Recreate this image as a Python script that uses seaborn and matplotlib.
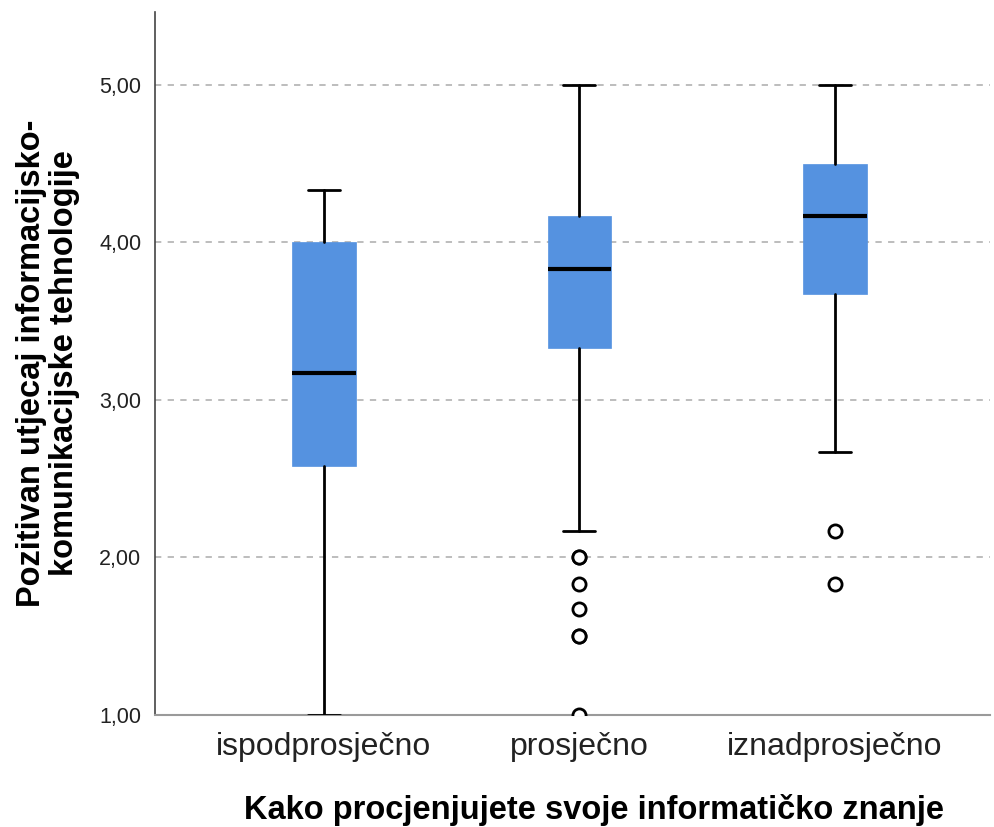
import numpy as np
import pandas as pd
import seaborn as sns
import matplotlib.pyplot as plt

# summary statistics
categories = ["ispodprosječno", "prosječno", "iznadprosječno"]
whisker_low = [1.00, 2.17, 2.67]
q1 = [2.58, 3.33, 3.67]
median = [3.17, 3.83, 4.17]
q3 = [4.00, 4.17, 4.50]
whisker_high = [4.33, 5.00, 5.00]

outlier_group = ["prosječno"] * 7 + ["iznadprosječno"] * 2
outlier_value = [2.00, 2.00, 1.83, 1.67, 1.50, 1.50, 1.00, 2.17, 1.83]

yticks = [1, 2, 3, 4, 5]

sns.set_style("white")
plt.rcParams["font.family"] = ["Liberation Sans", "DejaVu Sans"]

fig = plt.figure(figsize=(9.94, 8.27), dpi=100)
ax = fig.add_axes([0.156, 0.1354, 0.84, 0.8501])

stats = []
for i, cat in enumerate(categories):
    stats.append({
        "label": cat,
        "whislo": whisker_low[i],
        "q1": q1[i],
        "med": median[i],
        "q3": q3[i],
        "whishi": whisker_high[i],
        "fliers": [],
    })

box_color = "#5592e0"
ax.bxp(
    stats,
    positions=range(len(categories)),
    widths=0.25,
    patch_artist=True,
    showfliers=False,
    boxprops=dict(facecolor=box_color, edgecolor=box_color, linewidth=0.5),
    medianprops=dict(color="black", linewidth=3.0, solid_capstyle="butt"),
    whiskerprops=dict(color="black", linewidth=2.0),
    capprops=dict(color="black", linewidth=2.0),
    zorder=3,
)

# outliers as open circles
out_df = pd.DataFrame({"grp": outlier_group, "val": outlier_value})
out_df["pos"] = out_df["grp"].map({c: i for i, c in enumerate(categories)})
sns.scatterplot(
    data=out_df, x="pos", y="val", ax=ax,
    marker="o", s=90, facecolor="white", edgecolor="black",
    linewidth=2.0, zorder=4, legend=False,
)

ax.set_xlim(-0.661, 2.607)
ax.set_ylim(1.0, 5.463)
ax.set_xticks(range(len(categories)))
ax.set_xticklabels(categories)
ax.set_yticks(yticks)
ax.set_yticklabels([f"{v:.2f}".replace(".", ",") for v in yticks])

for v in yticks[1:]:
    ax.axhline(v, color="#b8b8b8", linewidth=1.3, linestyle=(0, (3.5, 3.5)), zorder=1)

for s in ["top", "right"]:
    ax.spines[s].set_visible(False)
ax.spines["left"].set_color("#444444")
ax.spines["left"].set_linewidth(1.2)
ax.spines["bottom"].set_color("#9a9a9a")
ax.spines["bottom"].set_linewidth(1.5)

ax.tick_params(axis="y", length=0, pad=10, labelsize=15.5, labelcolor="#222222")
ax.tick_params(axis="x", length=0, pad=12, labelsize=23, labelcolor="#222222")

ax.set_xlabel("Kako procjenjujete svoje informatičko znanje",
              fontsize=23.5, fontweight="bold", color="black")
ax.set_ylabel("Pozitivan utjecaj informacijsko-\nkomunikacijske tehnologije",
              fontsize=23.5, fontweight="bold", color="black", linespacing=1.1)
ax.xaxis.set_label_coords(0.526, -0.113)
ax.yaxis.set_label_coords(-0.090, 0.5)

fig.savefig("out.png", dpi=100)
